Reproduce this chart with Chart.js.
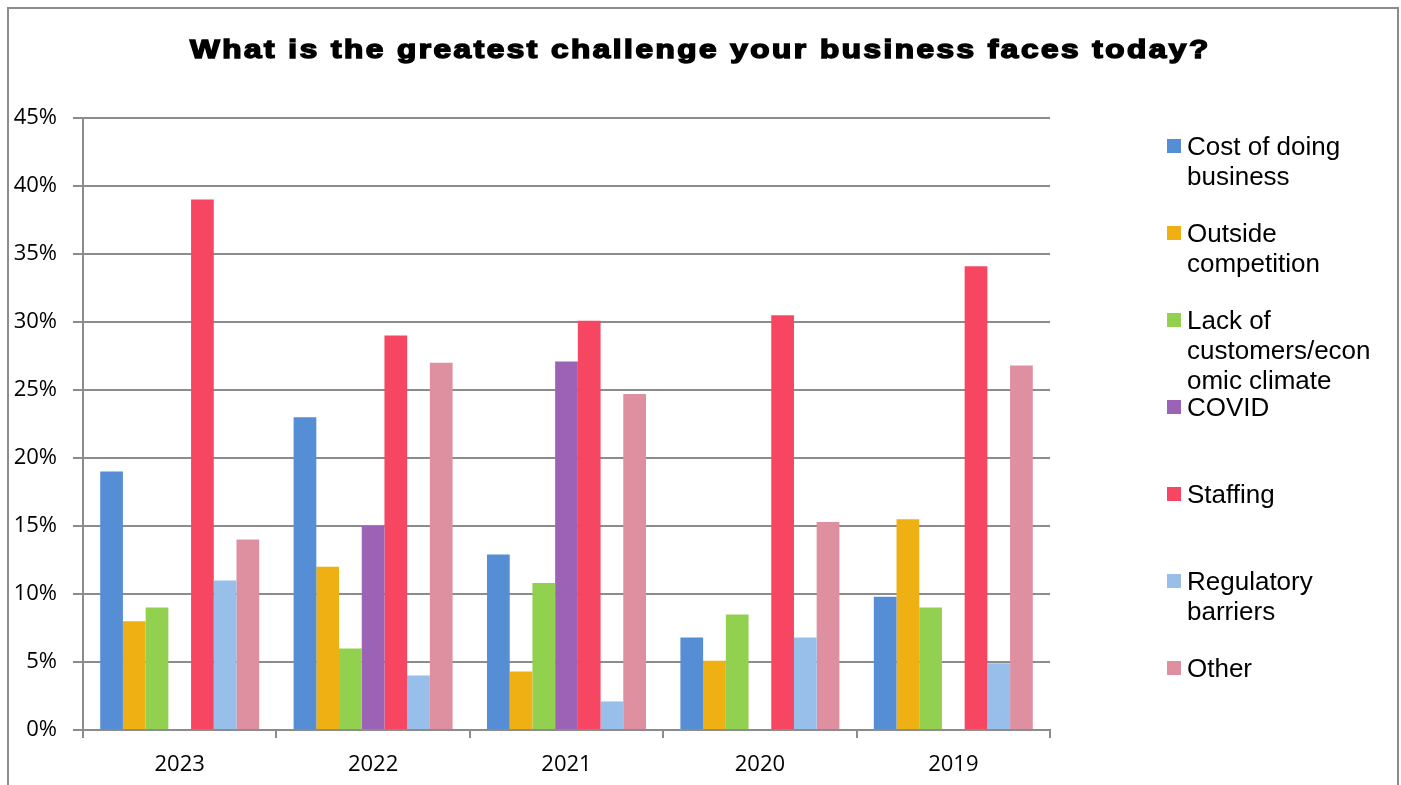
<!DOCTYPE html>
<html>
<head>
<meta charset="utf-8">
<script src="https://cdn.jsdelivr.net/npm/chart.js@4.4.0/dist/chart.umd.min.js"></script>
<style>
    html, body {
        margin: 0;
        padding: 0;
        background: #fff;
        overflow: hidden;
    }
    #wrap {
        position: relative;
        width: 1401px;
        height: 785px;
    }
    #frame {
        position: absolute;
        left: 7px;
        top: 7px;
        width: 1388px;
        height: 820px;
        border: 2px solid #8c8c8c;
    }
    #myChart {
        position: absolute;
        left: 0;
        top: 0;
    }
    #title {
        position: absolute;
        left: 0;
        top: 34px;
        width: 1401px;
        text-align: center;
        font-family: "Liberation Sans", Arial, sans-serif;
        font-weight: bold;
        font-size: 25px;
        line-height: 30px;
        letter-spacing: 2px;
        -webkit-text-stroke: 1.5px #000;
        color: #000;
        white-space: nowrap;
        transform: scaleX(1.26);
        transform-origin: 701px 0;
    }
    .legend-item {
        position: absolute;
        left: 1167px;
        font-family: "Liberation Sans", Arial, sans-serif;
        font-size: 26px;
        line-height: 30px;
        color: #000;
        white-space: pre-line;
    }
    .legend-item .box {
        position: absolute;
        left: 0;
        top: 8px;
        width: 14px;
        height: 14px;
    }
    .legend-item .txt {
        margin-left: 20px;
    }
</style>
</head>
<body>
<div id="wrap">
    <canvas id="myChart" width="1401" height="785"></canvas>
    <div id="frame"></div>
    <div id="title">What is the greatest challenge your business faces today?</div>
    <div id="legend"></div>
</div>
<script>
var years = ['2023', '2022', '2021', '2020', '2019'];

var seriesNames = [
    'Cost of doing\nbusiness',
    'Outside\ncompetition',
    'Lack of\ncustomers/econ\nomic climate',
    'COVID',
    'Staffing',
    'Regulatory\nbarriers',
    'Other'
];

var seriesColors = ['#558ed5', '#eeb013', '#92d050', '#9b62b5', '#f64662', '#97bfea', '#de8fa0'];

// percent of responses, one value per year
var costOfDoingBusiness = [19, 23, 12.9, 6.8, 9.8];
var outsideCompetition = [8, 12, 4.3, 5.1, 15.5];
var lackOfCustomers = [9, 6, 10.8, 8.5, 9];
var covid = [null, 15, 27.1, null, null];
var staffing = [39, 29, 30.1, 30.5, 34.1];
var regulatoryBarriers = [11, 4, 2.1, 6.8, 4.9];
var other = [14, 27, 24.7, 15.3, 26.8];

var seriesValues = [costOfDoingBusiness, outsideCompetition, lackOfCustomers, covid, staffing, regulatoryBarriers, other];

var yTicks = [0, 5, 10, 15, 20, 25, 30, 35, 40, 45];

function buildLegend() {
    var legend = document.getElementById('legend');
    for (var i = 0; i < seriesNames.length; i++) {
        var item = document.createElement('div');
        item.className = 'legend-item';
        item.style.top = (131 + 87 * i) + 'px';
        item.innerHTML = '<span class="box" style="background:' + seriesColors[i] + '"></span>' +
            '<div class="txt"></div>';
        item.querySelector('.txt').textContent = seriesNames[i];
        legend.appendChild(item);
    }
}

function createChart() {
    var datasets = [];
    for (var i = 0; i < seriesNames.length; i++) {
        datasets.push({
            label: seriesNames[i].replace(/\n/g, ' '),
            data: seriesValues[i],
            backgroundColor: seriesColors[i],
            borderWidth: 0,
            categoryPercentage: 0.822,
            barPercentage: 1
        });
    }

    var ctx = document.getElementById('myChart').getContext('2d');
    var myChart = new Chart(ctx, {
        type: 'bar',
        data: {
            labels: years,
            datasets: datasets
        },
        options: {
            responsive: false,
            animation: false,
            devicePixelRatio: 1,
            layout: {
                padding: { left: 0, top: 118, right: 351, bottom: 0 }
            },
            plugins: {
                legend: { display: false },
                title: { display: false },
                tooltip: { enabled: false }
            },
            scales: {
                x: {
                    offset: true,
                    grid: {
                        offset: true,
                        drawOnChartArea: false,
                        color: '#8c8c8c',
                        lineWidth: 2,
                        tickLength: 8
                    },
                    border: { color: '#8c8c8c', width: 2 },
                    ticks: {
                        color: '#000',
                        padding: 14,
                        font: { family: 'Open Sans', size: 22 }
                    },
                    afterFit: function (scale) {
                        scale.height = 55;
                    }
                },
                y: {
                    min: yTicks[0],
                    max: yTicks[yTicks.length - 1],
                    afterBuildTicks: function (scale) {
                        scale.ticks = yTicks.map(function (v) { return { value: v }; });
                    },
                    grid: {
                        color: '#8c8c8c',
                        lineWidth: 2,
                        tickLength: 10
                    },
                    border: { color: '#8c8c8c', width: 2 },
                    ticks: {
                        color: '#000',
                        padding: 16,
                        font: { family: 'Open Sans', size: 22 },
                        callback: function (v) { return v + '%'; }
                    },
                    afterFit: function (scale) {
                        scale.width = 83;
                    }
                }
            }
        }
    });
    return myChart;
}

buildLegend();
createChart();
</script>
</body>
</html>
